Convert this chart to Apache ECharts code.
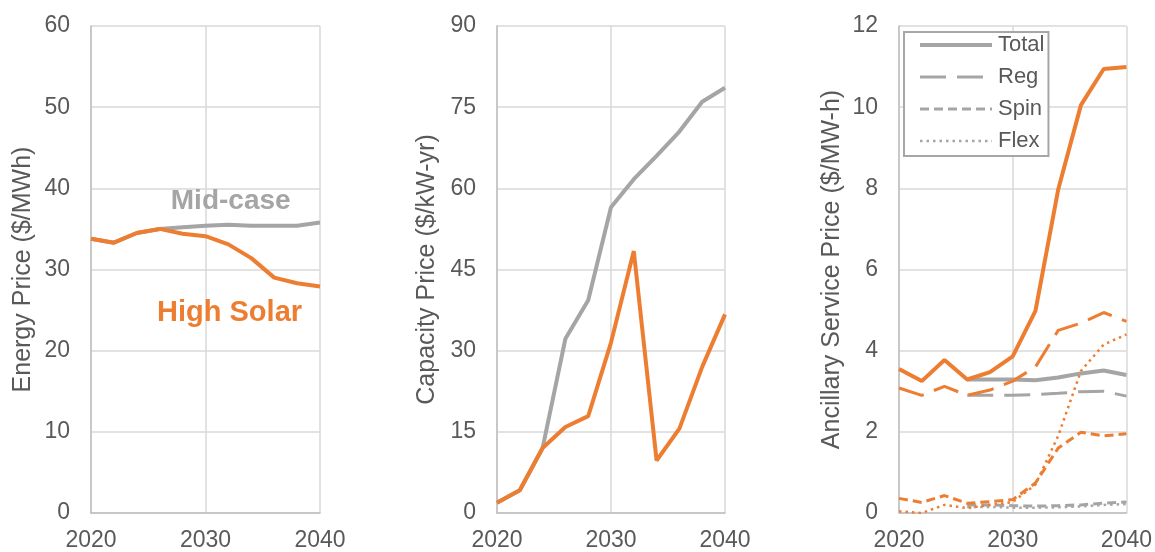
<!DOCTYPE html>
<html>
<head>
<meta charset="utf-8">
<title>Energy, capacity and ancillary service prices</title>
<script src="https://cdn.jsdelivr.net/npm/echarts@6/dist/echarts.min.js"></script>
<style>
  html, body { margin: 0; padding: 0; background: #fff; }
  #main { width: 1155px; height: 552px; }
</style>
</head>
<body>
<div id="main"></div>
<script>
  // years on every panel
  const years = [2020, 2022, 2024, 2026, 2028, 2030, 2032, 2034, 2036, 2038, 2040]

  // energy price ($/MWh)
  const energyMid = [33.8, 33.3, 34.5, 35.0, 35.2, 35.4, 35.5, 35.4, 35.4, 35.4, 35.8]
  const energyHigh = [33.8, 33.3, 34.5, 35.0, 34.4, 34.1, 33.1, 31.4, 29.0, 28.3, 27.9]

  // capacity price ($/kW-yr)
  const capacityMid = [1.9, 4.2, 12.0, 32.2, 39.3, 56.5, 61.7, 66.0, 70.5, 76.0, 78.6]
  const capacityHigh = [1.9, 4.2, 12.0, 15.9, 17.9, 31.5, 48.4, 9.7, 15.6, 27.0, 36.7]

  // ancillary service price ($/MW-h), mid-case only drawn from 2026
  const asTotalMid = [null, null, null, 3.29, 3.29, 3.29, 3.27, 3.34, 3.44, 3.51, 3.40]
  const asRegMid = [null, null, null, 2.9, 2.9, 2.9, 2.92, 2.95, 2.99, 3.0, 2.88]
  const asSpinMid = [null, null, null, 0.2, 0.2, 0.18, 0.17, 0.18, 0.2, 0.24, 0.27]
  const asFlexMid = [null, null, null, 0.15, 0.15, 0.13, 0.13, 0.14, 0.16, 0.2, 0.22]
  const asTotalHigh = [3.55, 3.25, 3.77, 3.29, 3.47, 3.86, 4.98, 7.97, 10.05, 10.94, 10.99]
  const asRegHigh = [3.08, 2.9, 3.12, 2.9, 3.03, 3.25, 3.6, 4.5, 4.68, 4.94, 4.72]
  const asSpinHigh = [0.36, 0.26, 0.43, 0.24, 0.28, 0.33, 0.74, 1.6, 1.99, 1.9, 1.95]
  const asFlexHigh = [0.04, 0.0, 0.2, 0.12, 0.2, 0.27, 0.7, 1.9, 3.5, 4.15, 4.4]

  const legendNames = ['Total', 'Reg', 'Spin', 'Flex']
  const yMax = [60, 90, 12]
  const yStep = [10, 15, 2]
  const yNames = ['Energy Price ($/MWh)', 'Capacity Price ($/kW-yr)', 'Ancillary Service Price ($/MW-h)']

  const FONT = "'Liberation Sans', Arial, sans-serif"
  const TEXT = '#595959'
  const ORANGE = '#ED7D31'
  const GRAY = '#A5A5A5'

  const gridLefts = [91, 497, 899]
  const gridWidths = [229, 228, 228]
  const nameGaps = [55, 57, 54]

  function pairs(values) {
    return years.map((y, i) => [y, values[i]])
  }

  function line(name, idx, values, color, width, dash) {
    return {
      name: name,
      type: 'line',
      xAxisIndex: idx,
      yAxisIndex: idx,
      data: pairs(values),
      symbol: 'none',
      connectNulls: false,
      lineStyle: { color: color, width: width, type: dash || 'solid' },
      itemStyle: { color: color },
      animation: false,
    }
  }

  const grids = gridLefts.map((left, i) => ({ left: left, top: 26, width: gridWidths[i], height: 487 }))

  const xAxes = grids.map((g, i) => ({
    type: 'value',
    gridIndex: i,
    min: 2020,
    max: 2040,
    interval: 10,
    axisLine: { show: true, lineStyle: { color: '#bfbfbf', width: 1.5 } },
    axisTick: { show: false },
    splitLine: { show: true, lineStyle: { color: '#d9d9d9', width: 1.5 } },
    axisLabel: { fontSize: 23, color: TEXT, fontFamily: FONT, margin: 16, formatter: (v) => String(v) },
  }))

  const yAxes = grids.map((g, i) => ({
    type: 'value',
    gridIndex: i,
    min: 0,
    max: yMax[i],
    interval: yStep[i],
    name: yNames[i],
    nameLocation: 'middle',
    nameGap: nameGaps[i],
    nameTextStyle: { fontSize: 25, color: TEXT, fontFamily: FONT },
    axisLine: { show: true, lineStyle: { color: '#bfbfbf', width: 1.5 } },
    axisTick: { show: false },
    splitLine: { show: true, lineStyle: { color: '#d9d9d9', width: 1.5 } },
    axisLabel: { fontSize: 23, color: TEXT, fontFamily: FONT, margin: 21 },
  }))

  const series = [
    line('Mid-case energy', 0, energyMid, GRAY, 4),
    line('High Solar energy', 0, energyHigh, ORANGE, 4),
    line('Mid-case capacity', 1, capacityMid, GRAY, 4),
    line('High Solar capacity', 1, capacityHigh, ORANGE, 4),
    line('Total', 2, asTotalMid, GRAY, 4),
    line('Reg', 2, asRegMid, GRAY, 3, [26, 11]),
    line('Spin', 2, asSpinMid, GRAY, 3, [9, 5]),
    line('Flex', 2, asFlexMid, GRAY, 2.5, [2.5, 4]),
    line('Total HS', 2, asTotalHigh, ORANGE, 4),
    line('Reg HS', 2, asRegHigh, ORANGE, 3, [26, 11]),
    line('Spin HS', 2, asSpinHigh, ORANGE, 3, [9, 5]),
    line('Flex HS', 2, asFlexHigh, ORANGE, 2.5, [2.5, 4]),
  ]

  const option = {
    backgroundColor: '#fff',
    animation: false,
    grid: grids,
    xAxis: xAxes,
    yAxis: yAxes,
    legend: {
      data: legendNames,
      orient: 'vertical',
      left: 904,
      top: 32,
      padding: [2, 4, 4, 14],
      itemGap: 10,
      itemWidth: 72,
      itemHeight: 14,
      backgroundColor: '#fff',
      borderColor: '#a6a6a6',
      borderWidth: 2,
      borderRadius: 0,
      selectedMode: false,
      itemStyle: { opacity: 0 },
      lineStyle: { width: 'inherit' },
      textStyle: { fontSize: 22, color: TEXT, fontFamily: FONT, padding: [0, 0, 0, 1] },
    },
    series: series,
  }

  const chart = echarts.init(document.getElementById('main'), null, { renderer: 'canvas' })
  chart.setOption(option)

  // case labels in the energy panel, placed through the axis scales
  const midPos = chart.convertToPixel({ gridIndex: 0 }, [2032.2, 38.4])
  const highPos = chart.convertToPixel({ gridIndex: 0 }, [2032.1, 24.7])
  chart.setOption({
    graphic: [
      {
        type: 'text',
        x: midPos[0],
        y: midPos[1],
        style: { text: 'Mid-case', fill: GRAY, font: "bold 28px 'Liberation Sans', Arial, sans-serif", align: 'center', verticalAlign: 'middle' },
      },
      {
        type: 'text',
        x: highPos[0],
        y: highPos[1],
        style: { text: 'High Solar', fill: ORANGE, font: "bold 29px 'Liberation Sans', Arial, sans-serif", align: 'center', verticalAlign: 'middle' },
      },
    ],
  })
</script>
</body>
</html>
